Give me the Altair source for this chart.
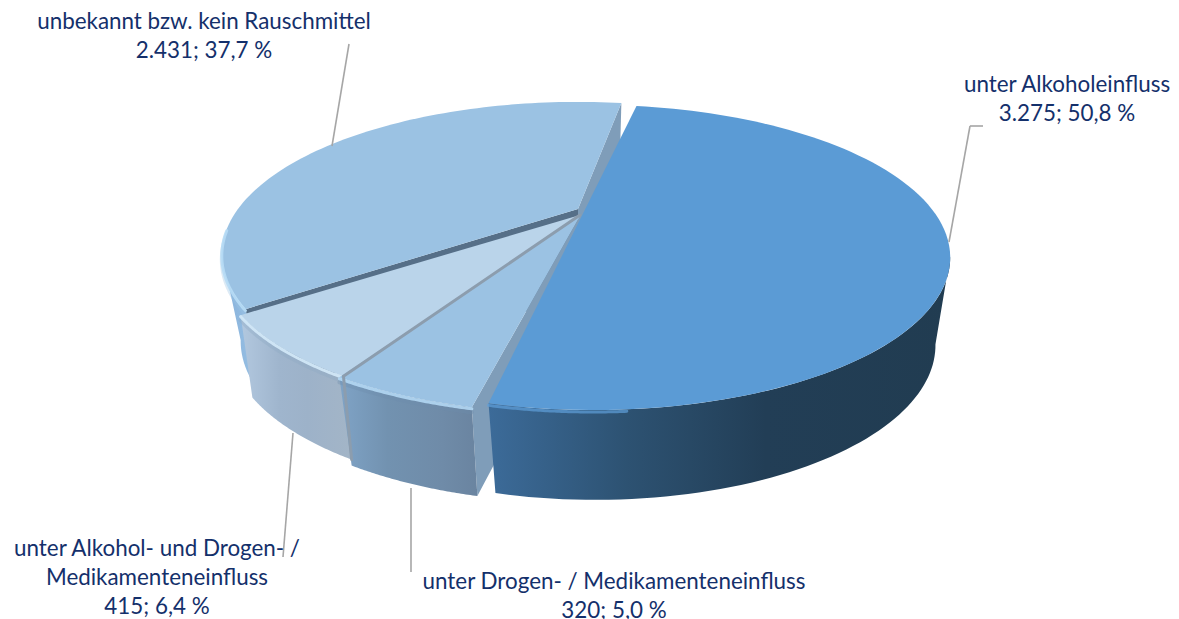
import math
import altair as alt

categories = ["unter Alkoholeinfluss", "unter Drogen- / Medikamenteneinfluss",
              "unter Alkohol- und Drogen- / Medikamenteneinfluss", "unbekannt bzw. kein Rauschmittel"]
counts = [3275, 320, 415, 2431]
count_labels = ["3.275", "320", "415", "2.431"]
pct_labels = ["50,8 %", "5,0 %", "6,4 %", "37,7 %"]

W, H = 1163, 611
M = 8
START = 9.5
K = 0.298
total = sum(counts)
edges = [START]
for c in counts:
    edges.append(edges[-1] + 360 * c / total)

# per-slice placement of top face and bottom rim (explosion)
geo = {
    "blue": dict(x0=593, y0=212, a=341, b=139, xb=595, yb=299, ab=325, bb=141),
    "drug": dict(x0=580, y0=216, a=353, b=139, xb=580, yb=302, ab=335, bb=141),
    "alc": dict(x0=580, y0=215, a=347, b=139, xb=580, yb=296, ab=335, bb=141),
    "unk": dict(x0=578, y0=209, a=340, b=139, xb=578, yb=295, ab=322, bb=141),
}


def top(g, t, dy=0):
    u, v = math.sin(math.radians(t)), math.cos(math.radians(t))
    d = 1 + K * v
    return [g["x0"] + g["a"] * u / d - M, g["y0"] - g["b"] * v / d - M + dy]


def bot(g, t):
    u, v = math.sin(math.radians(t)), math.cos(math.radians(t))
    d = 1 + K * v
    return [g["xb"] + g["ab"] * u / d - M, g["yb"] - g["bb"] * v / d - M]


def rng(t0, t1, n=60):
    return [t0 + (t1 - t0) * i / n for i in range(n + 1)]


def shape(geometry, **mk):
    mk.setdefault("strokeWidth", 0)
    return alt.Chart(alt.Data(values=[{"type": "Feature", "properties": {}, "geometry": geometry}])
                     ).mark_geoshape(**mk).project(type="identity", scale=1, translate=[0, 0])


def poly(pts, **mk):
    return shape({"type": "Polygon", "coordinates": [pts + [pts[0]]]}, **mk)


def line(pts, color, width, opacity=1.0):
    return shape({"type": "LineString", "coordinates": pts}, filled=False, stroke=color,
                 strokeWidth=width, strokeOpacity=opacity, strokeCap="round")


def grad(*stops):
    return alt.Gradient(gradient="linear", x1=0, x2=1, y1=0, y2=0,
                        stops=[alt.GradientStop(color=c, offset=o) for o, c in stops])


def face(g, t0, t1, color, apex=True):
    head = [[g["x0"] - M, g["y0"] - M]] if apex else []
    return poly(head + [top(g, t) for t in rng(t0, t1, 90)], fill=color)


def wall(g, t0, t1, fill):
    ts = rng(t0, t1, 60)
    return poly([top(g, t) for t in ts] + [bot(g, t) for t in reversed(ts)], fill=fill)


def cut(g, t, color):
    return poly([[g["x0"] - M, g["y0"] - M], top(g, t), bot(g, t), [g["xb"] - M, g["yb"] - M]], fill=color)


def rim(g, t0, t1, dark, light):
    ts = rng(t0, t1, 60)
    return [line([top(g, t, 5) for t in ts], dark, 4, 0.35),
            line([top(g, t, 1.5) for t in ts], light, 3, 0.9)]


e0, e1, e2, e3, e4 = edges
layers = []

# unknown (back-left) slice
u = geo["unk"]
layers += [wall(u, e3, 253, grad((0, "#86B0DA"), (1, "#9CC4E6"))),
           cut(u, e3, "#566F88"), cut(u, e4, "#7F9DB9"),
           face(u, e3, e4, "#9BC2E3")]
layers += rim(u, e3, 262, "#9BC2E3", "#B7DBF5")

# alcohol + drugs slice
a = geo["alc"]
layers += [wall(a, e2, e3, grad((0, "#B2C8DF"), (0.35, "#9FB5CD"), (0.6, "#9DB2C9"), (1, "#A3B5C7"))),
           face(a, e2, e3, "#BAD4EA")]
layers += rim(a, e2, e3, "#8CA8C4", "#D3E9F8")

# drugs slice
d = geo["drug"]
layers += [cut(d, e1, "#7F9DB9"),
           wall(d, e1, e2, grad((0, "#7FA3C6"), (0.35, "#7292B0"), (0.75, "#6F8BA8"), (1, "#6A84A0"))),
           face(d, e1, e2, "#9BC2E3")]
layers += rim(d, e1, e2, "#6D8CAC", "#B3D7F3")
layers.append(line([bot(a, e2), top(a, e2), [a["x0"] - M, a["y0"] - M]], "#8C9DAE", 3))

# alcohol slice
b = geo["blue"]
layers += [wall(b, e0 + 97.5, e1, grad((0, "#3C6B99"), (0.3, "#2D5272"), (0.6, "#223E56"), (1, "#213C51"))),
           face(b, e0, e1, "#5B9BD5", apex=False),
           line([top(b, t, 2) for t in rng(176, e1)], "#5F9FDA", 3, 0.7)]

# leader lines
leaders = [((349, 44), (332, 146)), ((983, 126), (970, 126)), ((970, 126), (949, 242)),
           ((293, 433), (283, 557)), ((411, 488), (411, 572))]
for (x1, y1), (x2, y2) in leaders:
    layers.append(alt.Chart(alt.Data(values=[{}])).mark_rule(color="#A6A6A6", strokeWidth=1.6).encode(
        x=alt.value(x1 - M), x2=alt.value(x2 - M), y=alt.value(y1 - M), y2=alt.value(y2 - M)))

# data labels
label_lines = [
    ((1067, 92), [categories[0], f"{count_labels[0]}; {pct_labels[0]}"]),
    ((614, 589), [categories[1], f"{count_labels[1]}; {pct_labels[1]}"]),
    ((157, 556), ["unter Alkohol- und Drogen- /", "Medikamenteneinfluss", f"{count_labels[2]}; {pct_labels[2]}"]),
    ((204, 29), [categories[3], f"{count_labels[3]}; {pct_labels[3]}"]),
]
for (x, y), lines in label_lines:
    for i, s in enumerate(lines):
        layers.append(alt.Chart(alt.Data(values=[{"t": s}])).mark_text(
            x=x - M, y=y - M + i * 29, align="center", baseline="alphabetic",
            font="Lato", fontSize=22.4, color="#14306B").encode(text="t:N"))

chart = alt.layer(*layers).properties(width=W, height=H, padding=0,
                                      autosize=alt.AutoSizeParams(type="none")
                                      ).configure_view(stroke=None)
chart.save("out.html", embed_options={"renderer": "svg", "actions": False})
